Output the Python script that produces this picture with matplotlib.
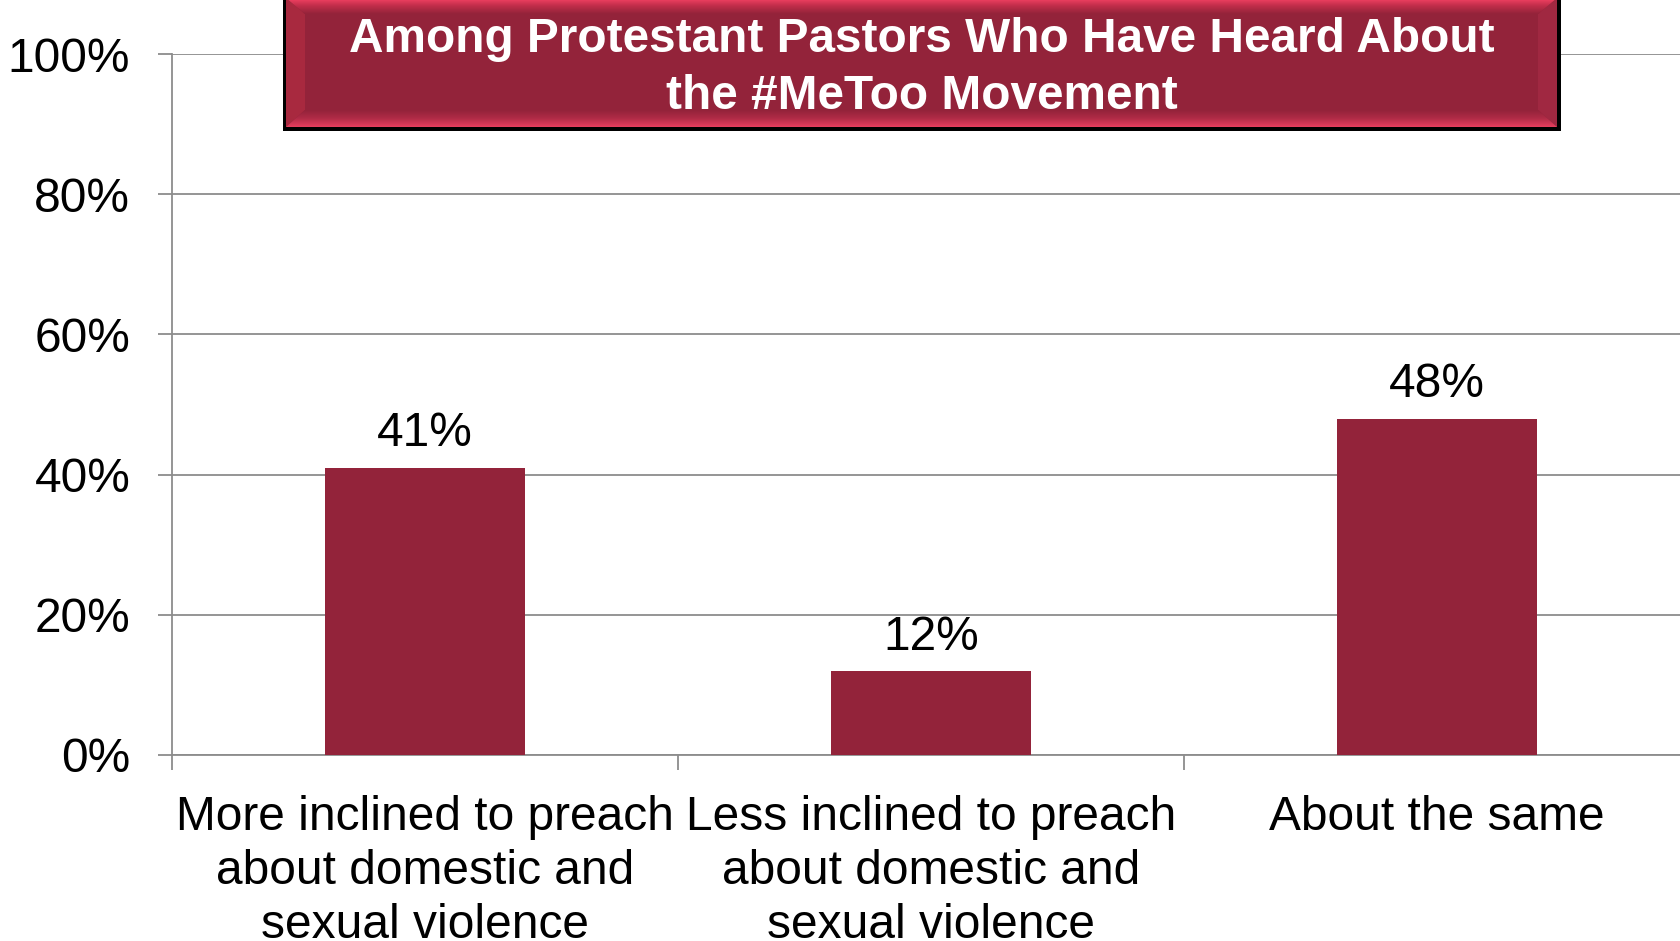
import matplotlib
matplotlib.use("Agg")
import matplotlib.pyplot as plt
import numpy as np
from matplotlib.patches import Rectangle, Polygon
from matplotlib.colors import LinearSegmentedColormap

plt.rcParams['font.family'] = ['Liberation Sans', 'DejaVu Sans']

categories = ["More inclined to preach\nabout domestic and\nsexual violence",
              "Less inclined to preach\nabout domestic and\nsexual violence",
              "About the same"]
values = [41, 12, 48]
value_labels = ["41%", "12%", "48%"]
yticks = [0, 20, 40, 60, 80, 100]
ytick_labels = ["0%", "20%", "40%", "60%", "80%", "100%"]
title = "Among Protestant Pastors Who Have Heard About\nthe #MeToo Movement"

W, H = 1680, 941
fig = plt.figure(figsize=(W / 100, H / 100), dpi=100)
bar_color = "#93233A"
grid_color = "#8C8C8C"
fs = 34.5

# axes in pixel coordinates: left 172, right 1690, top 54, bottom 755
ax = fig.add_axes([172 / W, (H - 755) / H, (1690 - 172) / W, (755 - 54) / H])
x = np.arange(len(categories))
ax.bar(x, values, width=0.397, color=bar_color, zorder=3)
ax.set_xlim(-0.5, len(categories) - 0.5)
ax.set_ylim(0, 100)
ax.set_yticks(yticks)
ax.set_yticklabels(ytick_labels, fontsize=fs)
ax.yaxis.grid(True, color=grid_color, linewidth=1.3, zorder=0)
ax.set_axisbelow(True)
for s in ["top", "right"]:
    ax.spines[s].set_visible(False)
for s in ["left", "bottom"]:
    ax.spines[s].set_color(grid_color)
    ax.spines[s].set_linewidth(1.3)
ax.tick_params(axis="y", direction="out", length=10, width=1.3, color=grid_color, pad=20)
ax.set_xticks(x)
ax.set_xticklabels(categories, fontsize=fs, linespacing=1.27)
ax.tick_params(axis="x", which="major", length=0, pad=28.5)
ax.set_xticks(np.arange(-0.5, len(categories) + 0.5, 1.0), minor=True)
ax.tick_params(axis="x", which="minor", direction="out", length=11, width=1.3, color=grid_color)

for xi, v, lab in zip(x, values, value_labels):
    ax.annotate(lab, (xi, v), xytext=(0, 8), textcoords="offset points",
                ha="center", va="bottom", fontsize=fs)

# title box overlay in pixel coords
ov = fig.add_axes([0, 0, 1, 1], zorder=10)
ov.set_xlim(0, W)
ov.set_ylim(H, 0)
ov.axis("off")
ov.patch.set_alpha(0)

L, R, T, B = 286, 1557, -2, 127
ov.add_patch(Rectangle((L - 3, T), R - L + 7, B - T + 4, facecolor="black", edgecolor="none"))
ov.add_patch(Rectangle((L, T), R - L, B - T, facecolor=bar_color, edgecolor="none"))
bev = 19
# left / right bevels
ov.add_patch(Polygon([(L, T), (L + bev, 14), (L + bev, B - 17), (L, B)], closed=True,
                     facecolor="#A8293F", edgecolor="none"))
ov.add_patch(Polygon([(R, T), (R - bev, 14), (R - bev, B - 17), (R, B)], closed=True,
                     facecolor="#A02841", edgecolor="none"))
# top bevel gradient
cm_top = LinearSegmentedColormap.from_list("t", ["#FF4668", "#C32E4B", bar_color])
grad = np.linspace(0, 1, 64).reshape(-1, 1)
im = ov.imshow(grad, cmap=cm_top, extent=(L, R, 14, T), aspect="auto", zorder=2)
im.set_clip_path(Polygon([(L, T), (R, T), (R - bev, 14), (L + bev, 14)], closed=True,
                         transform=ov.transData))
cm_bot = LinearSegmentedColormap.from_list("b", [bar_color, "#B12C47", "#E63E5E"])
im2 = ov.imshow(grad, cmap=cm_bot, extent=(L, R, B, B - 17), aspect="auto", zorder=2)
im2.set_clip_path(Polygon([(L, B), (R, B), (R - bev, B - 17), (L + bev, B - 17)], closed=True,
                          transform=ov.transData))

ov.text((L + R) / 2, 68, title, ha="center", va="center", color="white",
        fontsize=34.4, fontweight="bold", linespacing=1.34, zorder=5)

fig.savefig("out.png", dpi=100)
